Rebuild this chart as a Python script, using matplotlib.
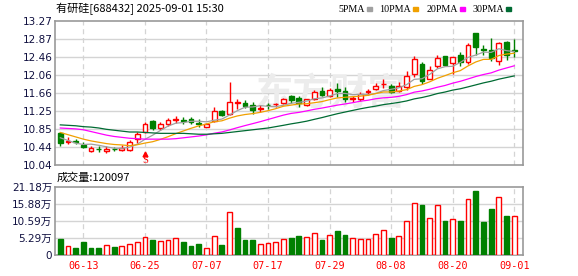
import numpy as np
import pandas as pd
import matplotlib
matplotlib.use("Agg")
from matplotlib import pyplot as plt
from matplotlib.patches import Rectangle

plt.rcParams['font.family'] = ['DejaVu Sans', 'Noto Sans CJK SC']

# trading days 2025-06-10 .. 2025-09-01
dates = list(pd.bdate_range("2025-06-10", "2025-09-01").strftime("%m-%d"))

opens = [10.75, 10.55, 10.57, 10.49, 10.36, 10.41, 10.36, 10.41, 10.37, 10.38,
         10.62, 10.79, 11.03, 10.86, 10.95, 11.06, 11.04, 11.07, 10.99, 10.90,
         11.02, 11.26, 11.19, 11.43, 11.44, 11.39, 11.30, 11.39, 11.40, 11.44,
         11.58, 11.55, 11.39, 11.51, 11.70, 11.59, 11.75, 11.70, 11.52, 11.51,
         11.68, 11.75, 11.85, 11.81, 11.71, 11.80, 12.08, 12.31, 11.98, 12.25,
         12.48, 12.32, 12.51, 12.34, 13.00, 12.65, 12.62, 12.37, 12.81, 12.61]
highs = [10.77, 10.66, 10.62, 10.55, 10.46, 10.46, 10.46, 10.45, 10.48, 10.60,
         10.79, 11.00, 11.04, 11.01, 11.09, 11.15, 11.12, 11.11, 11.07, 10.99,
         11.33, 11.28, 11.91, 11.52, 11.50, 11.46, 11.39, 11.43, 11.44, 11.55,
         11.62, 11.59, 11.52, 11.72, 11.80, 11.76, 11.87, 11.80, 11.59, 11.68,
         11.74, 11.87, 11.97, 11.85, 11.91, 12.15, 12.49, 12.34, 12.27, 12.51,
         12.49, 12.47, 12.58, 12.77, 13.01, 12.73, 12.88, 12.80, 12.82, 12.87]
lows = [10.47, 10.51, 10.51, 10.43, 10.34, 10.34, 10.32, 10.36, 10.35, 10.36,
        10.53, 10.75, 10.83, 10.83, 10.91, 10.99, 10.96, 10.96, 10.89, 10.89,
        11.01, 11.14, 11.17, 11.29, 11.31, 11.19, 11.24, 11.29, 11.35, 11.41,
        11.44, 11.35, 11.36, 11.49, 11.59, 11.57, 11.57, 11.46, 11.46, 11.47,
        11.62, 11.72, 11.76, 11.65, 11.68, 11.72, 12.01, 11.85, 11.96, 12.22,
        12.27, 12.07, 12.27, 12.30, 12.51, 12.51, 12.38, 12.28, 12.40, 12.47]
closes = [10.53, 10.58, 10.56, 10.44, 10.43, 10.40, 10.41, 10.40, 10.43, 10.55,
          10.74, 10.96, 10.86, 10.96, 11.04, 11.07, 11.03, 11.00, 10.97, 10.97,
          11.25, 11.16, 11.46, 11.45, 11.36, 11.28, 11.31, 11.38, 11.41, 11.52,
          11.50, 11.42, 11.51, 11.68, 11.61, 11.72, 11.69, 11.53, 11.54, 11.64,
          11.69, 11.82, 11.86, 11.68, 11.81, 12.04, 12.42, 11.92, 12.17, 12.43,
          12.29, 12.46, 12.36, 12.73, 12.69, 12.62, 12.43, 12.77, 12.51, 12.60]
prev_close = 10.80

# volume, in 万
volumes = [5.06, 2.90, 2.38, 4.23, 2.38, 2.38, 3.20, 2.70, 2.90, 3.50,
           4.23, 5.57, 4.75, 4.44, 4.75, 5.27, 4.23, 2.90, 3.50, 2.38,
           5.98, 3.20, 13.38, 8.54, 4.75, 4.75, 3.50, 3.90, 4.23, 5.06,
           5.36, 5.98, 5.57, 6.80, 4.75, 6.20, 7.52, 6.20, 5.27, 4.96,
           4.96, 6.50, 7.74, 5.36, 5.88, 10.50, 16.06, 15.54, 11.43, 15.44,
           10.50, 11.13, 10.50, 17.30, 19.85, 10.30, 14.30, 17.90, 12.15, 12.01]

# moving-average values before a full window of closes is available
ma_heads = {
    5: [10.65, 10.59, 10.53, 10.50],
    10: [10.77, 10.72, 10.67, 10.62, 10.58, 10.55, 10.52, 10.50, 10.49],
    20: [10.87, 10.86, 10.85, 10.83, 10.79, 10.75, 10.71, 10.68, 10.66, 10.64,
         10.63, 10.62, 10.62, 10.62, 10.62, 10.63, 10.65, 10.67, 10.69],
    30: [10.94, 10.93, 10.92, 10.90, 10.89, 10.87, 10.84, 10.82, 10.80, 10.78,
         10.78, 10.77, 10.76, 10.75, 10.75, 10.75, 10.75, 10.74, 10.73, 10.73,
         10.74, 10.75, 10.77, 10.79, 10.81, 10.83, 10.85, 10.87, 10.90],
}
ma_colors = {5: "#a0a0a0", 10: "#f0a000", 20: "#ff00ff", 30: "#006b33"}

price_ticks = ["10.04", "10.44", "10.85", "11.25", "11.66", "12.06", "12.46", "12.87", "13.27"]
vol_ticks = ["0", "5.29万", "10.59万", "15.88万", "21.18万"]
signal_index = 11

RED = "#ff0000"
GREEN = "#008000"
FRAME = "#999999"
GRID = "#d4d4d4"


def moving_average(values, n, head):
    out = list(head)
    for i in range(n - 1, len(values)):
        out.append(np.mean(values[i - n + 1:i + 1]))
    return out


def style_axis(axis):
    for s in axis.spines.values():
        s.set_color(FRAME)
        s.set_linewidth(1.2)
    axis.tick_params(length=0, labelsize=7.5, colors="#101040", pad=2)
    axis.set_xlim(-0.69, len(dates) + 0.1)
    axis.set_xticks(date_ticks)
    for t in date_ticks:
        axis.axvline(t, color=GRID, lw=0.9, ls=(0, (4, 3)), zorder=0)


x = np.arange(len(dates))
date_ticks = list(range(len(dates) - 1, -1, -8))[::-1]
o = np.array(opens)
c = np.array(closes)
up = c > o

fig = plt.figure(figsize=(5.78, 2.76), dpi=100)
ax = fig.add_axes([55 / 578, 1 - 165 / 276, 467.7 / 578, 144 / 276])
axv = fig.add_axes([55 / 578, 1 - 255.4 / 276, 467.7 / 578, 68.7 / 276])

# price panel
style_axis(ax)
pt = np.linspace(float(price_ticks[0]), float(price_ticks[-1]), len(price_ticks))
ax.set_ylim(pt[0], pt[-1])
ax.set_yticks(pt)
ax.set_yticklabels(price_ticks)
ax.set_xticklabels([])
for v in pt[1:-1]:
    ax.axhline(v, color=GRID, lw=1, zorder=0)

ax.text(0.59, 0.49, "东方财富", transform=ax.transAxes, fontsize=27,
        color="#ececec", ha="center", va="center", fontweight="bold",
        family=["Noto Sans CJK SC"], zorder=0)

cols = [RED if u else GREEN for u in up]
ax.vlines(x, lows, highs, colors=cols, lw=1, zorder=2)
bottoms = np.minimum(o, c)
heights = np.maximum(np.abs(c - o), 0.004)
ax.bar(x, heights, bottom=bottoms, width=0.62,
       color=["white" if u else GREEN for u in up], edgecolor=cols,
       linewidth=1, zorder=3)

for n, col in ma_colors.items():
    ax.plot(x, moving_average(closes, n, ma_heads[n]), color=col, lw=0.9, zorder=4)

# buy signal
ax.plot(signal_index, pt[0] + 0.25, marker="^", ms=3.5, color=RED, clip_on=False, zorder=5)
ax.text(signal_index, pt[0] + 0.11, "S", color=RED, fontsize=7.5, ha="center",
        va="center", family=["Liberation Serif"], clip_on=False, zorder=5)

# volume panel
style_axis(axv)
vt = np.linspace(0, float(vol_ticks[-1][:-1]), len(vol_ticks))
axv.set_ylim(vt[0], vt[-1])
axv.set_yticks(vt)
axv.set_yticklabels(vol_ticks)
for v in vt[1:-1]:
    axv.axhline(v, color=GRID, lw=1, zorder=0)
vol_up = c >= np.concatenate([[prev_close], c[:-1]])
axv.bar(x, volumes, width=0.62, color=["white" if u else GREEN for u in vol_up],
        edgecolor=[RED if u else GREEN for u in vol_up], linewidth=1, zorder=3)
axv.set_xticklabels([dates[i] for i in date_ticks], family=["DejaVu Sans Mono"],
                    color=RED, fontsize=7.3)
axv.tick_params(axis="x", pad=4)

# header texts
fig.text(56 / 578, 1 - 9 / 276, "有研硅[688432] 2025-09-01 15:30", fontsize=8,
         family=["Noto Sans CJK SC"], va="center", ha="left")
fig.text(57 / 578, 1 - 177.5 / 276, "成交量:120097", fontsize=8,
         family=["Noto Sans CJK SC"], va="center", ha="left")

renderer = fig.canvas.get_renderer()
lx = 338
for n, col in ma_colors.items():
    t = fig.text(lx / 578, 1 - 9 / 276, f"{n}PMA", fontsize=7.2,
                 family=["Liberation Serif"], va="center", ha="left")
    w = t.get_window_extent(renderer).width
    sq = Rectangle(((lx + w + 2) / 578, 1 - 10.5 / 276), 5 / 578, 4 / 276,
                   transform=fig.transFigure, color=col)
    fig.add_artist(sq)
    lx += w + 15

fig.savefig("out.png", dpi=100)
